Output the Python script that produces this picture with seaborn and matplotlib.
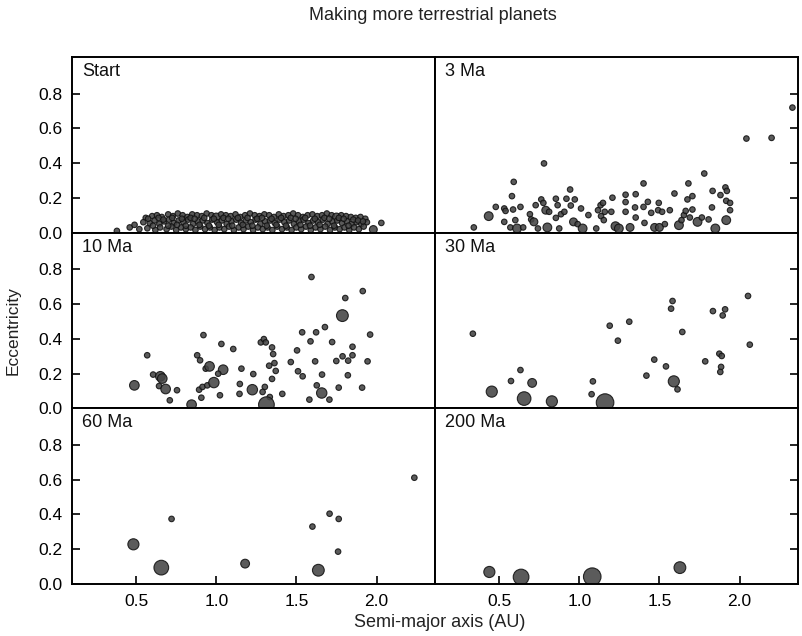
import matplotlib
matplotlib.use("Agg")
import matplotlib.pyplot as plt
import seaborn as sns

# Semi-major axis (AU), eccentricity and relative mass of each body, per snapshot
start_a = [0.56, 0.60, 0.63, 0.66, 0.70, 0.73, 0.76, 0.79, 0.82, 0.85, 0.88, 0.91,
           0.94, 0.97, 1.00, 1.03, 1.06, 1.09, 1.12, 1.15, 1.18, 1.21, 1.24, 1.27,
           1.30, 1.33, 1.36, 1.39, 1.42, 1.45, 1.48, 1.51, 1.54, 1.57, 1.60, 1.63,
           1.66, 1.69, 1.72, 1.75, 1.78, 1.81, 1.84, 1.87, 1.90, 1.93,
           0.545, 0.585, 0.615, 0.645, 0.675, 0.705, 0.735, 0.765, 0.795, 0.825,
           0.855, 0.885, 0.915, 0.945, 0.975, 1.005, 1.035, 1.065, 1.095, 1.125,
           1.155, 1.185, 1.215, 1.245, 1.275, 1.305, 1.335, 1.365, 1.395, 1.425,
           1.455, 1.485, 1.515, 1.545, 1.575, 1.605, 1.635, 1.665, 1.695, 1.725,
           1.755, 1.785, 1.815, 1.845, 1.875, 1.905, 1.94, 2.03,
           0.38, 0.46, 0.49, 0.52, 0.57, 0.62, 0.65, 0.69, 0.72, 0.75, 0.78, 0.81,
           0.84, 0.87, 0.90, 0.93, 0.96, 0.99, 1.02, 1.05, 1.08, 1.11, 1.14, 1.17,
           1.20, 1.23, 1.26, 1.29, 1.32, 1.35, 1.38, 1.41, 1.44, 1.47, 1.50, 1.53,
           1.56, 1.59, 1.62, 1.65, 1.68, 1.71, 1.74, 1.77, 1.80, 1.83, 1.86, 1.89,
           1.92, 1.98,
           0.575, 0.605, 0.64, 0.67, 0.70, 0.725, 0.755, 0.785, 0.81, 0.84,
           0.865, 0.895, 0.925, 0.955, 0.985, 1.015, 1.045, 1.075, 1.10, 1.135,
           1.165, 1.195, 1.225, 1.255, 1.285, 1.315, 1.345, 1.375, 1.405, 1.435,
           1.465, 1.495, 1.525, 1.555, 1.585, 1.615, 1.645, 1.675, 1.705, 1.735,
           1.765, 1.795, 1.825, 1.855, 1.885, 1.915]
start_e = [0.085, 0.095, 0.100, 0.090, 0.105, 0.095, 0.110, 0.100, 0.090, 0.105, 0.100, 0.095,
           0.110, 0.100, 0.090, 0.105, 0.100, 0.095, 0.105, 0.090, 0.100, 0.110, 0.100, 0.095,
           0.105, 0.100, 0.090, 0.105, 0.095, 0.100, 0.110, 0.100, 0.090, 0.100, 0.105, 0.095,
           0.100, 0.110, 0.100, 0.090, 0.100, 0.095, 0.090, 0.085, 0.090, 0.080,
           0.060, 0.055, 0.070, 0.050, 0.065, 0.075, 0.055, 0.070, 0.060, 0.075,
           0.050, 0.065, 0.070, 0.055, 0.075, 0.060, 0.070, 0.050, 0.065, 0.075,
           0.055, 0.070, 0.060, 0.075, 0.050, 0.065, 0.070, 0.055, 0.075, 0.060,
           0.070, 0.050, 0.065, 0.075, 0.055, 0.070, 0.060, 0.075, 0.050, 0.065,
           0.070, 0.055, 0.065, 0.050, 0.060, 0.050, 0.060, 0.056,
           0.010, 0.030, 0.045, 0.020, 0.025, 0.015, 0.030, 0.020, 0.035, 0.015, 0.030, 0.020,
           0.030, 0.015, 0.035, 0.020, 0.030, 0.015, 0.030, 0.020, 0.035, 0.015, 0.030, 0.020,
           0.035, 0.015, 0.030, 0.020, 0.030, 0.015, 0.035, 0.020, 0.030, 0.015, 0.030, 0.020,
           0.035, 0.015, 0.030, 0.020, 0.035, 0.015, 0.030, 0.020, 0.030, 0.015, 0.030, 0.020,
           0.035, 0.018,
           0.080, 0.040, 0.085, 0.075, 0.040, 0.085, 0.045, 0.080, 0.040, 0.085,
           0.080, 0.045, 0.085, 0.040, 0.080, 0.045, 0.085, 0.080, 0.040, 0.085,
           0.045, 0.085, 0.040, 0.080, 0.085, 0.040, 0.080, 0.045, 0.085, 0.040,
           0.085, 0.080, 0.045, 0.085, 0.040, 0.080, 0.045, 0.085, 0.080, 0.040,
           0.085, 0.080, 0.040, 0.075, 0.070, 0.065]
start_m = [1] * 14 + [2] + [1] * 24 + [2] + [1] * 103 + [2] + [1] * 46

ma3_a = [0.342, 0.435, 0.479, 0.532, 0.540, 0.532, 0.570, 0.591, 0.580, 0.587, 0.601,
         0.612, 0.633, 0.650, 0.692, 0.700, 0.717, 0.728, 0.742, 0.763, 0.780, 0.776,
         0.791, 0.812, 0.801, 0.854, 0.865, 0.854, 0.886, 0.907, 0.875, 0.920, 0.943,
         0.972, 0.947, 0.964, 0.990, 1.021, 1.011, 1.057, 1.106, 1.117, 1.133, 1.148,
         1.159, 1.136, 1.153, 1.207, 1.200, 1.226, 1.247, 1.289, 1.289, 1.289,
         1.317, 1.352, 1.348, 1.352, 1.401, 1.401, 1.428, 1.407, 1.449, 1.470, 1.496,
         1.492, 1.517, 1.500, 1.534, 1.565, 1.594, 1.622, 1.638, 1.653, 1.664, 1.681,
         1.675, 1.706, 1.706, 1.690, 1.738, 1.765, 1.780, 1.807, 1.832, 1.828, 1.849,
         1.881, 1.912, 1.921, 1.917, 1.941, 1.941, 1.917, 2.043, 2.200, 2.330]
ma3_e = [0.030, 0.095, 0.148, 0.139, 0.125, 0.062, 0.030, 0.292, 0.210, 0.133, 0.072,
         0.024, 0.148, 0.030, 0.106, 0.076, 0.062, 0.158, 0.024, 0.191, 0.398, 0.171,
         0.129, 0.120, 0.030, 0.195, 0.158, 0.085, 0.106, 0.120, 0.024, 0.195, 0.248,
         0.191, 0.156, 0.062, 0.049, 0.024, 0.139, 0.101, 0.024, 0.129, 0.158, 0.171,
         0.120, 0.095, 0.072, 0.201, 0.120, 0.037, 0.024, 0.218, 0.176, 0.120,
         0.030, 0.221, 0.145, 0.087, 0.283, 0.148, 0.177, 0.056, 0.114, 0.030, 0.171,
         0.129, 0.120, 0.030, 0.049, 0.129, 0.225, 0.043, 0.072, 0.101, 0.125, 0.283,
         0.191, 0.210, 0.133, 0.087, 0.062, 0.087, 0.340, 0.076, 0.240, 0.145, 0.024,
         0.216, 0.260, 0.240, 0.183, 0.171, 0.129, 0.072, 0.541, 0.545, 0.719]
ma3_m = [1, 2.5, 1, 1, 1, 1, 1, 1, 1, 1, 1,
         2.5, 1, 1, 1, 1, 2, 1, 1, 1, 1, 1,
         2, 1, 2.5, 1, 1, 1, 1, 1, 1, 1, 1,
         1, 1, 2, 1, 2.5, 1, 1, 1, 1, 1, 1,
         1, 1, 1, 1, 1, 2.5, 2.5, 1, 1, 1,
         2, 1, 1, 1, 1, 1, 1, 1, 1, 2, 1,
         1, 1, 2, 1, 1, 1, 2.5, 1, 1, 1, 1,
         1, 1, 1, 1, 2.5, 1, 1, 1, 1, 1, 2.5,
         1, 1, 1, 1, 1, 1, 2.5, 1, 1, 1]

ma10_a = [0.569, 0.489, 0.606, 0.651, 0.663, 0.643, 0.684, 0.710, 0.755, 0.846,
          0.920, 0.881, 0.899, 0.934, 0.958, 0.893, 0.914, 0.944, 0.985, 0.907,
          1.032, 1.043, 1.012, 1.023, 1.106, 1.157, 1.147, 1.145, 1.225, 1.231,
          1.278, 1.297, 1.309, 1.348, 1.355, 1.363, 1.330, 1.371, 1.348, 1.303,
          1.289, 1.334, 1.313, 1.412, 1.465, 1.504, 1.510, 1.539, 1.536, 1.594,
          1.588, 1.623, 1.617, 1.678, 1.723, 1.660, 1.627, 1.658, 1.581, 1.706,
          1.749, 1.764, 1.788, 1.787, 1.805, 1.823, 1.821, 1.850, 1.850, 1.914,
          1.910, 1.944, 1.960]
ma10_e = [0.305, 0.132, 0.194, 0.184, 0.171, 0.128, 0.111, 0.046, 0.104, 0.021,
          0.421, 0.305, 0.276, 0.228, 0.241, 0.107, 0.123, 0.132, 0.148, 0.061,
          0.370, 0.222, 0.199, 0.075, 0.341, 0.228, 0.140, 0.083, 0.107, 0.197,
          0.379, 0.398, 0.379, 0.350, 0.312, 0.260, 0.245, 0.215, 0.169, 0.123,
          0.094, 0.065, 0.021, 0.083, 0.266, 0.333, 0.213, 0.184, 0.437, 0.755,
          0.385, 0.437, 0.270, 0.467, 0.381, 0.194, 0.132, 0.088, 0.050, 0.050,
          0.272, 0.119, 0.299, 0.533, 0.634, 0.274, 0.190, 0.354, 0.305, 0.674,
          0.119, 0.270, 0.424]
ma10_m = [1, 3, 1, 3, 3, 1, 3, 1, 1, 3,
          1, 1, 1, 1, 3, 1, 1, 1, 3.5, 1,
          1, 3, 1, 1, 1, 1, 1, 1, 3.5, 1,
          1, 1, 1, 1, 1, 1, 1, 1, 1, 1,
          1, 1, 8, 1, 1, 1, 1, 1, 1, 1,
          1, 1, 1, 1, 1, 1, 1, 3.5, 1, 1,
          1, 1, 1, 4.5, 1, 1, 1, 1, 1, 1,
          1, 1, 1]

ma30_a = [0.336, 0.454, 0.574, 0.633, 0.706, 0.656, 0.829, 1.085, 1.077, 1.161,
          1.190, 1.241, 1.312, 1.419, 1.468, 1.541, 1.582, 1.573, 1.643, 1.590,
          1.613, 1.786, 1.834, 1.895, 1.910, 1.874, 1.889, 1.885, 1.880, 2.053, 2.064]
ma30_e = [0.429, 0.096, 0.157, 0.220, 0.146, 0.056, 0.040, 0.155, 0.081, 0.033,
          0.475, 0.389, 0.498, 0.188, 0.280, 0.241, 0.617, 0.573, 0.439, 0.155,
          0.109, 0.270, 0.559, 0.534, 0.569, 0.314, 0.301, 0.238, 0.209, 0.646, 0.366]
ma30_m = [1, 4, 1, 1, 2.5, 6, 4, 1, 1, 11,
          1, 1, 1, 1, 1, 1, 1, 1, 1, 4,
          1, 1, 1, 1, 1, 1, 1, 1, 1, 1, 1]

ma60_a = [0.483, 0.657, 0.721, 1.180, 1.600, 1.707, 1.764, 1.760, 1.637, 2.236]
ma60_e = [0.228, 0.094, 0.374, 0.117, 0.330, 0.404, 0.374, 0.186, 0.079, 0.611]
ma60_m = [4, 7, 1, 2.5, 1, 1, 1, 1, 4.5, 1]

ma200_a = [0.439, 0.637, 1.081, 1.628]
ma200_e = [0.069, 0.040, 0.042, 0.094]
ma200_m = [4, 8, 11, 4.5]

panels = [("Start", start_a, start_e, start_m),
          ("3 Ma", ma3_a, ma3_e, ma3_m),
          ("10 Ma", ma10_a, ma10_e, ma10_m),
          ("30 Ma", ma30_a, ma30_e, ma30_m),
          ("60 Ma", ma60_a, ma60_e, ma60_m),
          ("200 Ma", ma200_a, ma200_e, ma200_m)]

x_ticks = [0.5, 1.0, 1.5, 2.0]
y_ticks = [0.0, 0.2, 0.4, 0.6, 0.8]

sns.set_theme(style="white")
plt.rcParams["font.family"] = ["Liberation Sans", "DejaVu Sans"]

fig, axes = plt.subplots(3, 2, figsize=(8.03, 6.36), dpi=100, sharex=True, sharey=True)
fig.subplots_adjust(left=0.0897, right=0.9938, top=0.9104, bottom=0.0818,
                    wspace=0, hspace=0)

for i, (ax, (label, a, e, m)) in enumerate(zip(axes.flat, panels)):
    row, col = divmod(i, 2)
    n = min(len(a), len(e), len(m))
    sns.scatterplot(x=a[:n], y=e[:n], size=m[:n], sizes=(16, 160), size_norm=(1, 10),
                    legend=False, ax=ax, color="#444444", edgecolor="#111111",
                    linewidth=0.8, alpha=0.88)
    ax.set_xlim(0.1, 2.365)
    ax.set_ylim(0.0, 1.01)
    ax.set_xticks(x_ticks)
    ax.set_xticklabels([f"{v:.1f}" for v in x_ticks])
    ax.set_yticks(y_ticks)
    ax.set_yticklabels([f"{v:.1f}" for v in y_ticks])
    for sp in ax.spines.values():
        sp.set_color("black")
        sp.set_linewidth(1.4)
    ax.tick_params(direction="in", length=6, width=1.2, colors="black",
                   labelsize=12.5, pad=7,
                   left=(col == 0), right=(col == 1),
                   labelleft=(col == 0), labelright=False,
                   bottom=(row == 2), top=False,
                   labelbottom=(row == 2), labeltop=False)
    ax.text(0.027, 0.965, label, transform=ax.transAxes, ha="left", va="top",
            fontsize=13, color="#111111")
    ax.set_xlabel("")
    ax.set_ylabel("")

fig.text(0.5386, 0.976, "Making more terrestrial planets", ha="center", va="center",
         fontsize=13, color="#222222")
fig.text(0.016, 0.481, "Eccentricity", rotation=90, ha="center", va="center",
         fontsize=12.5, color="#222222")
fig.text(0.547, 0.021, "Semi-major axis (AU)", ha="center", va="center",
         fontsize=13, color="#222222")

fig.savefig("out.png", dpi=100)
